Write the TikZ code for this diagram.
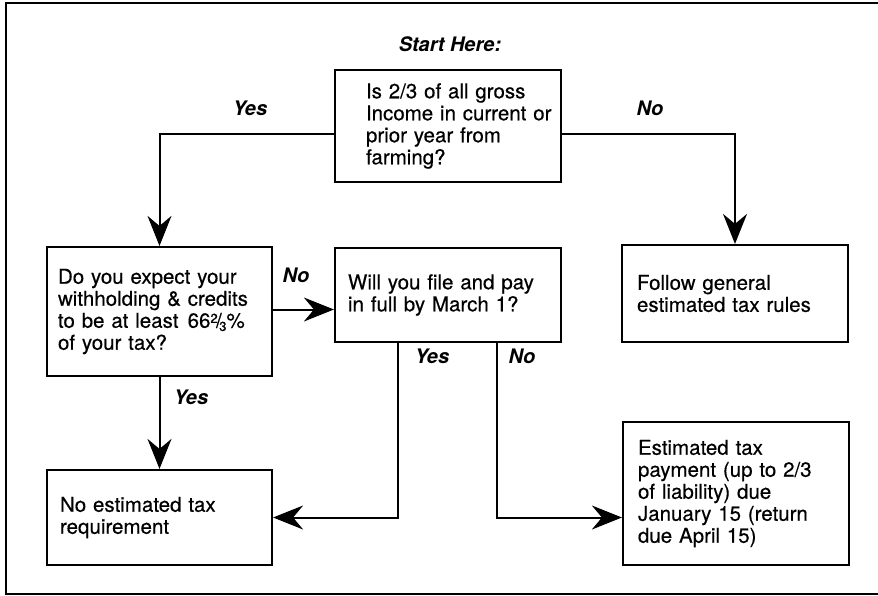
\documentclass[tikz,border=0pt]{standalone}
\usepackage{fontspec}
\setmainfont{TeX Gyre Heros}
\newfontfamily\boxfont{TeX Gyre Heros}[FakeBold=0.4]
\usetikzlibrary{arrows.meta}
\tikzstyle{question}=[rectangle,draw=black,line width=2.2pt,align=left,inner xsep=9pt,inner ysep=0pt,text width=208pt,font=\fontsize{20.5}{22}\boxfont]
\tikzstyle{answer}=[font=\fontsize{20}{22}\selectfont\bfseries\itshape]
\tikzstyle{flow}=[line width=2pt,-{Stealth[length=30pt,width=24pt,inset=10pt]}]
\newcommand{\twothirdspct}{\raisebox{.45ex}{\fontsize{13}{13}\selectfont 2}\kern-.08em/\kern-.12em\raisebox{-.3ex}{\fontsize{13}{13}\selectfont 3}\%}
\newcommand{\indentline}{\hspace*{22pt}}

\begin{document}
\begin{tikzpicture}[x=1pt,y=-1pt]
  \useasboundingbox (0,0) rectangle (878,595);
  \draw[line width=2.5pt] (878,3) -- (6,3) -- (6,594) -- (878,594);

  \node [answer] (start) at (450,44) {Start Here:};
  \node [question, minimum height=112pt] (income) at (448,126)
    {\indentline Is 2/3 of all gross\\ \indentline Income in current or\\ \indentline prior year from\\ \indentline farming?};
  \node [question, text width=207pt, minimum height=129pt] (withhold) at (159.5,311.5)
    {\hspace*{2pt}Do you expect your\\ \hspace*{2pt}withholding \& credits\\ \hspace*{2pt}to be at least\hspace{.45em}66\twothirdspct\\ \hspace*{2pt}of your tax?};
  \node [question, minimum height=94pt] (march) at (448,295)
    {\hspace*{4pt}Will you file and pay\\ \hspace*{4pt}in full by March 1?};
  \node [question, minimum height=97pt] (general) at (735,293.5)
    {\hspace*{6pt}Follow general\\ \hspace*{6pt}estimated tax rules};
  \node [question, text width=207pt, minimum height=95pt] (noreq) at (159.5,517.5)
    {\hspace*{4pt}No estimated tax\\ \hspace*{4pt}requirement};
  \node [question, minimum height=143pt] (estimate) at (736,493.5)
    {\hspace*{6pt}Estimated tax\\ \hspace*{6pt}payment (up to 2/3\\ \hspace*{6pt}of liability) due\\ \hspace*{6pt}January 15 (return\\ \hspace*{6pt}due April 15)};

  \draw [flow] ([yshift=-8pt]income.west) -| (withhold.north);
  \draw [flow] ([yshift=-8pt]income.east) -| (general.north);
  \draw [flow] ([yshift=2pt]withhold.east) -- ([yshift=2pt]withhold.east -| march.west);
  \draw [flow] (withhold.south) -- (noreq.north);
  \draw [flow] ([xshift=-50pt]march.south) |- (noreq.east);
  \draw [flow] ([xshift=49pt]march.south) |- ([yshift=-24pt]estimate.west);

  \node [answer] (yes1) at (250,108) {Yes};
  \node [answer] (no1) at (650,108) {No};
  \node [answer] (no2) at (296,275) {No};
  \node [answer] (yes2) at (191,397) {Yes};
  \node [answer] (yes3) at (432,356) {Yes};
  \node [answer] (no3) at (522,356) {No};
\end{tikzpicture}
\end{document}
